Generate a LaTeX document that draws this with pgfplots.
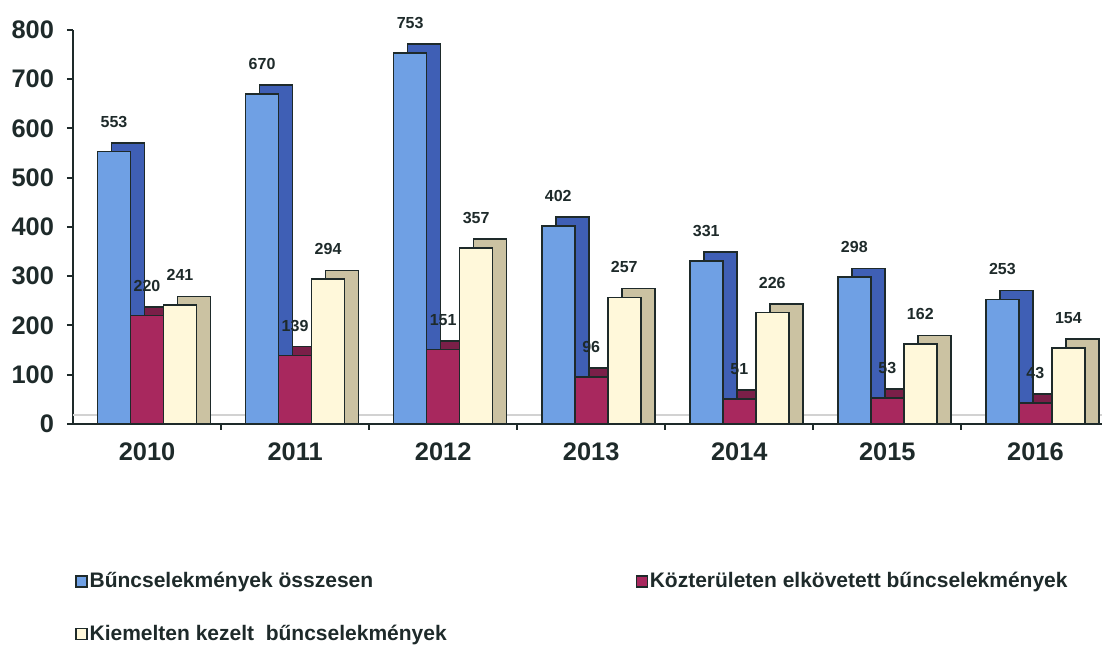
\documentclass[border=0pt]{standalone}
\usepackage{fontspec}
\setmainfont{Liberation Sans}
\usepackage{pgfplots}
\pgfplotsset{compat=1.18}
\usepackage{pgfplotstable}

\definecolor{bfront}{HTML}{6FA0E4}
\definecolor{bside}{HTML}{3F5FB5}
\definecolor{rfront}{HTML}{A8285E}
\definecolor{rside}{HTML}{7A1F48}
\definecolor{cfront}{HTML}{FFF8DA}
\definecolor{cside}{HTML}{CBC2A2}
\definecolor{axcol}{HTML}{1E2A2A}

\pgfplotstableread{
x a b c
0 553 220 241
1 670 139 294
2 753 151 357
3 402 96 257
4 331 51 226
5 298 53 162
6 253 43 154
}\data

\begin{document}
\begin{tikzpicture}
\begin{axis}[
  scale only axis, width=514.5pt, height=197pt,
  xmin=-0.5, xmax=6.45, ymin=0, ymax=800,
  axis x line*=bottom, axis y line*=left,
  axis line style={draw=axcol, line width=1pt},
  ybar, bar width=16.5pt,
  xtick={0.5,1.5,...,5.5}, xticklabels={},
  extra x ticks={0,1,2,3,4,5,6},
  extra x tick labels={2010,2011,2012,2013,2014,2015,2016},
  extra x tick style={major tick length=0pt, xticklabel style={yshift=-6pt}},
  ytick={0,100,...,800},
  yticklabel style={xshift=-3pt},
  extra y ticks={18}, extra y tick labels={},
  extra y tick style={major tick length=0pt, grid=major, major grid style={draw=gray!35, line width=1pt}},
  tick align=outside, major tick length=3pt,
  tick style={draw=axcol, line width=1pt},
  ticklabel style={font=\bfseries\fontsize{12.7}{14}\selectfont, text=axcol},
  /pgf/number format/assume math mode=true,
  every node near coord/.append style={font=\bfseries\fontsize{8}{9}\selectfont, text=axcol, anchor=center, yshift=15pt},
  legend columns=2,
  legend style={at={(0,0)}, anchor=north west, xshift=1pt, yshift=-73pt, draw=none, fill=none, inner sep=0pt,
    nodes={inner sep=1pt, font=\bfseries\fontsize{10.5}{12}\selectfont, text=axcol},
    /tikz/row sep=15pt},
  legend cell align=left,
  legend image code/.code={\draw[#1, draw=axcol, line width=0.6pt] (0pt,-2.75pt) rectangle (5.5pt,2.75pt);},
]
\addplot[forget plot, fill=bside, draw=axcol, line width=0.8pt, bar shift=-9.5pt] table[x=x, y expr=\thisrow{a}+18] {\data};
\addplot[fill=bfront, draw=axcol, line width=0.8pt, bar shift=-16.5pt, nodes near coords] table[x=x, y=a] {\data};
\addlegendentry{\makebox[272pt][l]{Bűncselekmények összesen}}
\addplot[forget plot, fill=rside, draw=axcol, line width=0.8pt, bar shift=7pt] table[x=x, y expr=\thisrow{b}+18] {\data};
\addplot[fill=rfront, draw=axcol, line width=0.8pt, bar shift=0pt, nodes near coords] table[x=x, y=b] {\data};
\addlegendentry{Közterületen elkövetett bűncselekmények}
\addplot[forget plot, fill=cside, draw=axcol, line width=0.8pt, bar shift=23.5pt] table[x=x, y expr=\thisrow{c}+18] {\data};
\addplot[fill=cfront, draw=axcol, line width=0.8pt, bar shift=16.5pt, nodes near coords] table[x=x, y=c] {\data};
\addlegendentry{Kiemelten kezelt\ \ bűncselekmények}
\end{axis}
\path (current axis.south west) ++(-36.5pt,-112.5pt) (current axis.north east) ++(1pt,15pt);
\end{tikzpicture}
\end{document}
